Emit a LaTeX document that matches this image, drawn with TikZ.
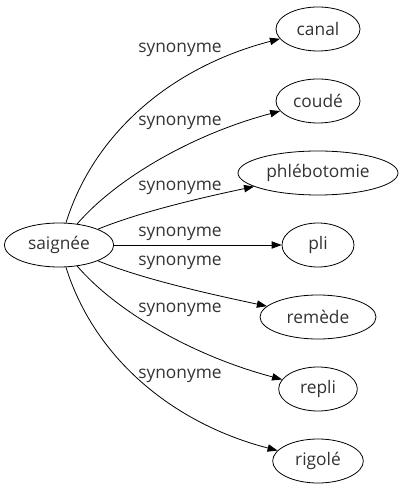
\documentclass[tikz,border=0pt]{standalone}
\usepackage{fontspec}
\setmainfont{Open Sans}
\usetikzlibrary{arrows.meta,shapes.geometric}
\definecolor{txt}{HTML}{333333}
\begin{document}
\begin{tikzpicture}[x=0.75pt,y=-0.75pt,
  word/.style={ellipse,draw,line width=0.6pt,inner sep=0pt,minimum height=33pt,text=txt,font=\fontsize{13}{15}\selectfont},
  lab/.style={inner sep=0pt,text=txt,font=\fontsize{13}{15}\selectfont},
  rel/.style={line width=0.6pt,-{Triangle[length=7.5pt,width=5.5pt]}}]
\useasboundingbox (0,0) rectangle (404,491);
\node[word,minimum width=82pt] (s) at (59,245) {saignée};
\node[word,minimum width=63pt] (canal) at (318,29) {canal};
\node[word,minimum width=63pt] (coude) at (318,101) {coudé};
\node[word,minimum width=120pt] (phleb) at (318,173) {phlébotomie};
\node[word,minimum width=54pt] (pli) at (318,245) {pli};
\node[word,minimum width=87pt] (remede) at (318,317) {remède};
\node[word,minimum width=59pt] (repli) at (318,389) {repli};
\node[word,minimum width=68pt] (rigole) at (318,461) {rigolé};
\node[lab] (l1) at (180,50) {synonyme};
\node[lab] (l2) at (180,123) {synonyme};
\node[lab] (l3) at (180,188) {synonyme};
\node[lab] (l4) at (180,234) {synonyme};
\node[lab] (l5) at (180,263) {synonyme};
\node[lab] (l6) at (180,310) {synonyme};
\node[lab] (l7) at (180,376) {synonyme};
\draw[rel] (s) .. controls (95,130) and (175,66) .. (canal);
\draw[rel] (s) .. controls (115,180) and (190,135) .. (coude);
\draw[rel] (s) .. controls (140,212) and (200,198) .. (phleb);
\draw[rel] (s) -- (pli);
\draw[rel] (s) .. controls (140,278) and (200,292) .. (remede);
\draw[rel] (s) .. controls (115,310) and (190,355) .. (repli);
\draw[rel] (s) .. controls (95,360) and (175,424) .. (rigole);
\end{tikzpicture}
\end{document}
